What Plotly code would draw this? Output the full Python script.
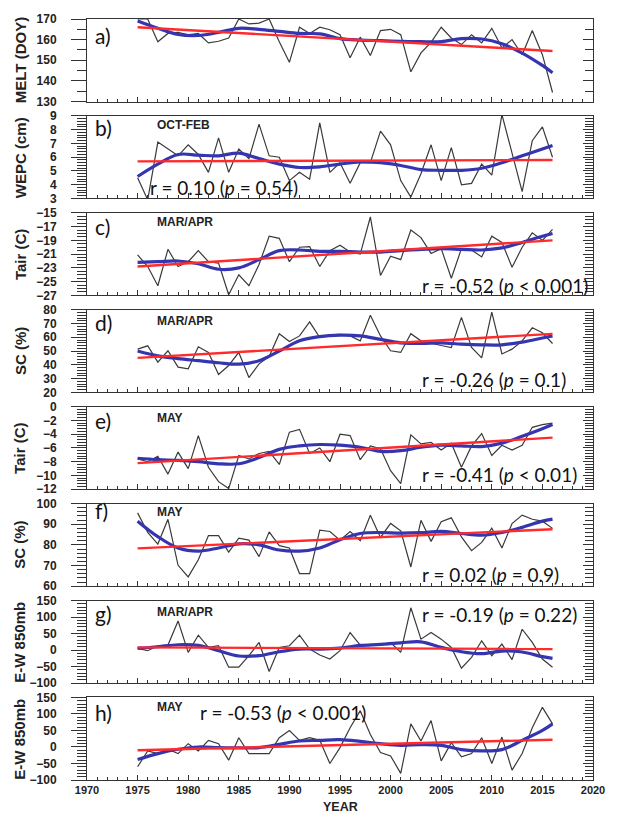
import plotly.graph_objects as go

# ---------------- data ----------------
years = list(range(1975, 2017))
smooth_years = list(range(1975, 2016, 2)) + [2016]
trend_years = [1975, 2016]

melt_doy = [170, 170, 159, 163, 163.5, 162.3, 163, 158.4, 159.2, 160.8,
            170, 167.6, 168, 170, 159, 149, 166, 163, 166, 164.8,
            162.4, 151.2, 161.2, 152.3, 164.4, 165, 162.4, 144.4, 153.6, 158.7,
            166, 160.8, 157.6, 162.4, 158.4, 165.5, 156, 160, 152.7, 164.4,
            152.7, 134.4]
melt_smooth = [169, 165.5, 162.5, 162, 163.5, 165.5, 165, 164, 163, 162.8, 160.5,
               159.8, 159.5, 159.2, 159, 159, 160.5, 160.3, 158, 153.5, 147.5, 144]
melt_trend = [166, 154.5]

wepc = [4.5, 2.9, 7.1, 6.6, 6.1, 6.9, 6.2, 4.9, 7.4, 4.9,
        6.6, 5.9, 8.4, 6.1, 6.0, 4.3, 4.9, 4.4, 8.5, 4.9,
        5.6, 4.1, 5.6, 5.6, 7.9, 6.9, 4.3, 3.1, 4.8, 6.9,
        4.3, 6.7, 4.0, 4.1, 5.5, 4.7, 9.1, 6.3, 3.5, 7.2,
        8.2, 6.0]
wepc_smooth = [4.6, 5.5, 6.2, 6.15, 6.1, 6.3, 5.9, 5.5, 5.25, 5.3, 5.5,
               5.65, 5.6, 5.4, 5.1, 5.05, 5.05, 5.2, 5.6, 6.1, 6.6, 6.85]
wepc_trend = [5.7, 5.8]

tair_marapr = [-21.1, -22.8, -25.6, -20.3, -22.8, -22.1, -20.5, -22.1, -22.3, -26.9,
               -24.0, -25.6, -22.5, -18.4, -18.7, -22.1, -20.0, -19.9, -22.8, -20.5,
               -19.7, -20.7, -21.0, -15.6, -24.1, -21.3, -21.8, -17.5, -18.6, -20.9,
               -20.2, -24.5, -20.2, -20.4, -21.4, -18.4, -19.3, -22.9, -20.0, -17.9,
               -19.0, -17.4]
tair_marapr_smooth = [-22.2, -22.1, -22.0, -22.4, -23.2, -23.0, -21.8, -20.5, -20.4, -20.6, -20.6,
                      -20.7, -20.7, -20.5, -20.3, -20.2, -20.3, -20.4, -20.1, -19.3, -18.4, -18.0]
tair_marapr_trend = [-22.8, -19.0]

sc_marapr = [51.4, 53.8, 41.9, 50.2, 38.3, 37.1, 53.1, 49.0, 32.9, 39.5,
             49.0, 30.7, 40.7, 46, 62.6, 56.9, 61.0, 71.2, 59.8, 61.7,
             62.1, 61.0, 57.4, 76.0, 61.0, 50.2, 49.0, 62.6, 57.4, 55.5,
             54, 52.6, 74.5, 52.6, 45, 78.3, 47.9, 51.4, 57.4, 66.9,
             63.3, 55.5]
sc_marapr_smooth = [50, 46.5, 44.5, 43, 41.5, 40.5, 43, 50, 57.5, 60.5, 61.5,
                    61, 58.5, 56, 55.5, 56, 55, 54.5, 54.5, 56.5, 59.5, 61]
sc_marapr_trend = [45, 62.5]

tair_may = [-7.6, -8.0, -7.2, -9.8, -6.6, -9.0, -4.2, -8.8, -10.9, -11.9,
            -7.1, -7.6, -6.8, -6.5, -8.4, -3.7, -3.3, -6.8, -6.0, -8.0,
            -4.0, -4.2, -7.7, -5.7, -6.1, -9.3, -11.2, -4.1, -5.4, -5.2,
            -6.3, -5.3, -8.8, -5.7, -3.9, -7.1, -5.6, -6.3, -5.6, -3.0,
            -2.6, -2.4]
tair_may_smooth = [-7.5, -7.7, -7.8, -8.0, -8.3, -8.3, -7.4, -6.2, -5.7, -5.5, -5.6,
                   -5.9, -6.5, -6.4, -5.9, -5.6, -5.7, -5.8, -5.3, -4.3, -3.2, -2.6]
tair_may_trend = [-8.2, -4.5]

sc_may = [95.5, 86, 80.4, 92.4, 70.1, 64.5, 72.8, 84.5, 84.5, 76.5,
          83.3, 82.3, 74.3, 86.3, 79.6, 78.5, 66.1, 66.1, 87.1, 86.5,
          82.3, 86.5, 82, 94.4, 83.6, 90.4, 86.8, 69.3, 91.9, 81.7,
          91.2, 93.1, 83.9, 77.2, 81.2, 88.1, 78.5, 90.3, 94.4, 92.4,
          91.5, 88]
sc_may_smooth = [91.5, 84, 78.5, 77, 78.5, 80.5, 80, 77.5, 77, 78.5, 82.5,
                 85.5, 86, 85.7, 85.9, 86.5, 85.5, 84.7, 86, 88.5, 91.5, 92.5]
sc_may_trend = [78.3, 87.6]

ew_marapr = [5, -2, 13, 15, 88, -7, 45, 8, 13, -52,
             -52, -17, 23, -65, 8, 13, 45, 3, -15, -27,
             -2, 53, 15, 15, 15, 23, -7, 128, 33, 53,
             33, 8, -55, -22, 28, -17, 18, -29, 63, 23,
             -27, -52]
ew_marapr_smooth = [5, 10, 16, 14, -2, -18, -17, -5, 3, 3, 6,
                    14, 17, 22, 25, 8, -5, -11, -3, -6, -20, -25]
ew_marapr_trend = [8, 3]

ew_may = [-60, -12, -20, -7, -20, 10, -12, 20, 10, -40,
          28, -20, -20, -20, 28, 50, 20, 28, 20, -50,
          -2, 58, 110, 38, -17, -27, -80, 70, 18, 80,
          -42, 13, -30, -20, 28, -50, 30, -70, -20, 58,
          120, 70]
ew_may_smooth = [-38, -20, -7, 0, -2, -3, -2, 8, 18, 20, 22,
                 17, 10, 5, 7, 5, -8, -12, -8, 20, 50, 70]
ew_may_trend = [-10, 22]

panel_letters = ["a)", "b)", "c)", "d)", "e)", "f)", "g)", "h)"]
y_titles = ["MELT (DOY)", "WEPC (cm)", "Tair (C)", "SC (%)", "Tair (C)", "SC (%)",
            "E-W 850mb", "E-W 850mb"]
seasons = ["", "OCT-FEB", "MAR/APR", "MAR/APR", "MAY", "MAY", "MAR/APR", "MAY"]
r_texts = ["",
           "r = 0.10 (<i>p</i> = 0.54)",
           "r = -0.52 (<i>p</i> < 0.001)",
           "r = -0.26 (<i>p</i> = 0.1)",
           "r = -0.41 (<i>p</i> < 0.01)",
           "r = 0.02 (<i>p</i> = 0.9)",
           "r = -0.19 (<i>p</i> = 0.22)",
           "r = -0.53 (<i>p</i> < 0.001)"]
y_ranges = [[130, 170], [3, 9], [-27, -15], [20, 80], [-12, 0], [60, 100], [-100, 150], [-100, 150]]
y_major = [10, 1, 2, 10, 2, 10, 50, 50]
y_minor = [5, 0.2, 0.5, 2, 0.4, 2, 10, 10]
x_tickvals = list(range(1970, 2021, 5))

series = [melt_doy, wepc, tair_marapr, sc_marapr, tair_may, sc_may, ew_marapr, ew_may]
smooths = [melt_smooth, wepc_smooth, tair_marapr_smooth, sc_marapr_smooth,
           tair_may_smooth, sc_may_smooth, ew_marapr_smooth, ew_may_smooth]
trends = [melt_trend, wepc_trend, tair_marapr_trend, sc_marapr_trend,
          tair_may_trend, sc_may_trend, ew_marapr_trend, ew_may_trend]

# ---------------- layout geometry (pixels) ----------------
W, H = 617, 815
ML, MR, MT, MB = 87, 17, 15, 35
PW, PH = W - ML - MR, H - MT - MB


def py(p):
    return 1 - (p - MT) / PH


def px(p):
    return (p - ML) / PW


def clamp(v):
    return min(1.0, max(0.0, v))


panel_h = 83.0
period = (PH - panel_h) / 7
tops = [MT + k * period for k in range(8)]

letter_dy = [17, 12, 14, 13, 14, 7, 13.5, 15]
season_dy = [0, 9.5, 9.5, 11, 11, 8.5, 12, 10]
r_pos = [None, (149, 186 - 114), (425, -10), (425, -13), (425, -15), (425, -12), (425, 616.7 - 603), (200, 716.7 - 701.7)]

fig = go.Figure()
axis_color = "#333333"
tick_font = dict(family="Liberation Sans, Arial", size=12, color="#222222", weight=700)
xtick_font = dict(family="Liberation Sans, Arial", size=11, color="#222222", weight=700)

layout = dict(
    width=W, height=H,
    margin=dict(l=ML, r=MR, t=MT, b=MB, pad=0),
    paper_bgcolor="white", plot_bgcolor="white",
    showlegend=False,
    annotations=[],
)

for k in range(8):
    xs = "" if k == 0 else str(k + 1)
    ys = "" if k == 0 else str(k + 1)
    ovs = str(k + 9)
    top = tops[k]
    bot = top + panel_h
    dom = [clamp(py(bot)), clamp(py(top))]

    layout["xaxis" + xs] = dict(
        domain=[0, 1], anchor="y" + ys, range=[1970, 2020],
        tickmode="array", tickvals=x_tickvals,
        ticks="inside", ticklen=5, tickwidth=1, tickcolor=axis_color,
        minor=dict(dtick=1, tick0=1970, ticks="inside", ticklen=3, tickcolor=axis_color),
        showline=True, linecolor=axis_color, linewidth=1, mirror=True,
        showgrid=False, zeroline=False,
        showticklabels=(k == 7), tickfont=xtick_font, ticklabelstandoff=0,
    )
    layout["yaxis" + ys] = dict(
        domain=dom, anchor="x" + xs, range=y_ranges[k],
        tickmode="linear", tick0=y_ranges[k][0], dtick=y_major[k],
        ticks="outside", ticklen=15, tickwidth=1, tickcolor=axis_color,
        minor=dict(dtick=y_minor[k], tick0=y_ranges[k][0], ticks="outside",
                   ticklen=9, tickcolor=axis_color),
        showline=True, linecolor=axis_color, linewidth=1, mirror=True,
        showgrid=False, zeroline=False,
        tickfont=tick_font, ticklabelstandoff=12,
    )
    layout["yaxis" + ovs] = dict(
        overlaying="y" + ys, anchor="x" + xs, side="right", range=y_ranges[k],
        tickmode="linear", tick0=y_ranges[k][0], dtick=y_major[k],
        ticks="inside", ticklen=10, tickwidth=1, tickcolor=axis_color,
        minor=dict(dtick=y_minor[k], tick0=y_ranges[k][0], ticks="inside",
                   ticklen=8, tickcolor=axis_color),
        showline=False, showgrid=False, zeroline=False, showticklabels=False,
    )

    fig.add_trace(go.Scatter(x=years, y=series[k], mode="lines",
                             line=dict(color="#3a3a3a", width=1.2),
                             xaxis="x" + xs, yaxis="y" + ys))
    fig.add_trace(go.Scatter(x=smooth_years, y=smooths[k], mode="lines",
                             line=dict(color="#3535b0", width=3.2, shape="spline", smoothing=1.0),
                             xaxis="x" + xs, yaxis="y" + ys))
    fig.add_trace(go.Scatter(x=trend_years, y=trends[k], mode="lines",
                             line=dict(color="#ff2a2a", width=2.4),
                             xaxis="x" + xs, yaxis="y" + ovs))

    layout["annotations"].append(dict(
        text=y_titles[k], x=px(19), y=py(top + panel_h / 2), xref="paper", yref="paper",
        textangle=-90, showarrow=False, xanchor="center", yanchor="middle",
        font=dict(family="Liberation Sans, Arial", size=15, color="#222222", weight=700)))
    layout["annotations"].append(dict(
        text=panel_letters[k], x=px(93), y=py(top + letter_dy[k]), xref="paper", yref="paper",
        showarrow=False, xanchor="left", yanchor="middle",
        font=dict(family="Lato", size=21, color="#111111")))
    if seasons[k]:
        layout["annotations"].append(dict(
            text=seasons[k], x=px(156), y=py(top + season_dy[k]), xref="paper", yref="paper",
            showarrow=False, xanchor="left", yanchor="middle",
            font=dict(family="Liberation Sans, Arial", size=12, color="#222222", weight=700)))
    if r_texts[k]:
        rx, rdy = r_pos[k]
        ry = top + rdy if rdy > 0 else bot + rdy
        layout["annotations"].append(dict(
            text=r_texts[k], x=px(rx), y=py(ry), xref="paper", yref="paper",
            showarrow=False, xanchor="left", yanchor="middle",
            font=dict(family="Lato", size=19, color="#111111")))

layout["annotations"].append(dict(
    text="YEAR", x=0.5, y=py(815), xref="paper", yref="paper",
    showarrow=False, xanchor="center", yanchor="bottom", borderpad=0,
    font=dict(family="Liberation Sans, Arial", size=12.5, color="#222222", weight=700)))

fig.update_layout(**layout)
fig.write_html("out.html")
